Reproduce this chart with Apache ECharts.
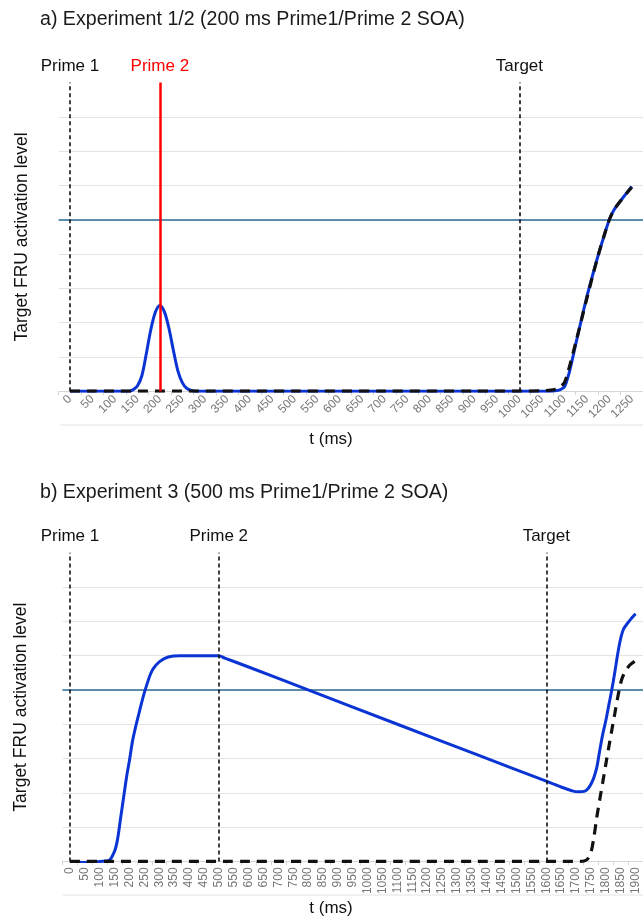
<!DOCTYPE html>
<html>
<head>
<meta charset="utf-8">
<script src="https://cdn.jsdelivr.net/npm/echarts@6/dist/echarts.min.js"></script>
<style>
  html, body { margin: 0; padding: 0; background: #fff; }
  #fru_chart_con { width: 643px; height: 922px; }
</style>
</head>
<body>
<div id="fru_chart_con"></div>
<script>
// panel a) Experiment 1/2, 200 ms SOA
const ticksA = ["0", "50", "100", "150", "200", "250", "300", "350", "400", "450", "500", "550", "600",
  "650", "700", "750", "800", "850", "900", "950", "1000", "1050", "1100", "1150", "1200", "1250"];
const timeA = [0, 50, 100, 130, 140, 150, 160, 170, 180, 190, 200, 210, 220, 230, 240, 250, 260, 270, 280, 300,
  500, 700, 900, 1000, 1050, 1070, 1080, 1090, 1100, 1110, 1125, 1150, 1175, 1190, 1200, 1210, 1225, 1250];
const primeA = [0, 0, 0, 0, 0.04, 0.15, 0.45, 1.1, 1.8, 2.3, 2.5, 2.32, 1.85, 1.2, 0.6, 0.25, 0.08, 0.02, 0, 0,
  0, 0, 0, 0, 0, 0, 0.01, 0.04, 0.12, 0.5, 1.35, 2.75, 3.95, 4.6, 5.0, 5.28, 5.55, 5.97];
const targetA = [0, 0, 0, 0, 0, 0, 0, 0, 0, 0, 0, 0, 0, 0, 0, 0, 0, 0, 0, 0,
  0, 0, 0, 0, 0.01, 0.03, 0.06, 0.12, 0.25, 0.65, 1.4, 2.7, 3.95, 4.6, 5.0, 5.28, 5.55, 5.95];
const markersA = [["Prime 1", 0], ["Prime 2", 200], ["Target", 1000]];

// panel b) Experiment 3, 500 ms SOA
const ticksB = ["0", "50", "100", "150", "200", "250", "300", "350", "400", "450", "500", "550", "600",
  "650", "700", "750", "800", "850", "900", "950", "1000", "1050", "1100", "1150", "1200", "1250", "1300",
  "1350", "1400", "1450", "1500", "1550", "1600", "1650", "1700", "1750", "1800", "1850", "1900"];
const timeB = [0, 50, 100, 130, 150, 160, 170, 180, 190, 200, 210, 220, 230, 240, 250, 260, 270, 280, 300, 330,
  370, 430, 470, 500, 520, 600, 800, 1100, 1365, 1600, 1650, 1690, 1710, 1730, 1740, 1750, 1760, 1770, 1780,
  1790, 1800, 1810, 1820, 1830, 1840, 1850, 1860, 1880, 1900];
const primeB = [0, -0.03, 0, 0.02, 0.3, 0.65, 1.25, 1.85, 2.45, 2.95, 3.5, 3.9, 4.25, 4.6, 4.92, 5.2, 5.45, 5.62,
  5.82, 5.96, 6.0, 6.0, 6.0, 6.0, 5.93, 5.67, 5.0, 4.0, 3.12, 2.34, 2.17, 2.05, 2.03, 2.05, 2.12, 2.25, 2.45,
  2.75, 3.25, 3.72, 4.1, 4.55, 5.0, 5.5, 6.05, 6.5, 6.78, 7.02, 7.22];
const targetB = [0, 0, 0, 0, 0, 0, 0, 0, 0, 0, 0, 0, 0, 0, 0, 0, 0, 0, 0, 0,
  0, 0, 0, 0, 0, 0, 0, 0, 0, 0, 0, 0, 0, 0.02, 0.08, 0.25, 0.7, 1.3, 1.82, 2.32, 2.83, 3.33, 3.82,
  4.3, 4.78, 5.2, 5.45, 5.72, 5.85];
const markersB = [["Prime 1", 0], ["Prime 2", 500], ["Target", 1600]];

const threshold = 5;
const yMax = 9;

const FONT = "'Liberation Sans', Arial, sans-serif";
const BLUE = "#0a34d4";

function pairs(xs, ys) {
  return xs.map((x, i) => [x, ys[i]]);
}

function markerLines(list, redName) {
  return list.map(([name, t]) => {
    const red = name === redName;
    return [
      {
        name: name,
        coord: [t, 0],
        lineStyle: red
          ? { color: "#ff0000", width: 2.5, type: "solid" }
          : { color: "#111", width: 1.6, type: [4, 3] },
        label: { color: red ? "#ff0000" : "#111" }
      },
      { coord: [t, yMax] }
    ];
  });
}

function panelAxes(idx, ticks, minT, maxT, rotate) {
  return [
    {
      type: "category",
      gridIndex: idx,
      data: ticks,
      boundaryGap: true,
      axisLine: { lineStyle: { color: "#d6d6d6", width: 1 } },
      axisTick: { show: true, length: 4, lineStyle: { color: "#d6d6d6" } },
      axisLabel: { interval: 0, rotate: rotate, color: "#777", fontSize: 12, fontFamily: FONT, margin: 6 },
      splitLine: { show: false }
    },
    {
      type: "value",
      gridIndex: idx,
      min: minT,
      max: maxT,
      show: false
    }
  ];
}

function panelY(idx, gap) {
  return {
    type: "value",
    gridIndex: idx,
    min: 0,
    max: yMax,
    interval: 1,
    name: "Target FRU activation level",
    nameLocation: "middle",
    nameGap: gap,
    nameTextStyle: { color: "#111", fontSize: 17.5, fontFamily: FONT },
    axisLine: { show: false },
    axisTick: { show: false },
    axisLabel: { show: false },
    splitLine: {
      show: true,
      showMinLine: false,
      showMaxLine: false,
      lineStyle: { color: "#e4e4e4", width: 1 }
    }
  };
}

function panelSeries(idx, xs, prime, target, markers, redName) {
  return [
    {
      name: "prime" + idx,
      type: "line",
      xAxisIndex: idx * 2 + 1,
      yAxisIndex: idx,
      data: pairs(xs, prime),
      smooth: 0.3,
      showSymbol: false,
      z: 2,
      lineStyle: { color: BLUE, width: 3 },
      markLine: {
        z: 1,
        silent: true,
        symbol: "none",
        label: { show: false },
        lineStyle: { color: "#2a6b96", width: 1.6, type: "solid" },
        data: [{ yAxis: threshold }]
      }
    },
    {
      name: "target" + idx,
      type: "line",
      xAxisIndex: idx * 2 + 1,
      yAxisIndex: idx,
      data: pairs(xs, target),
      smooth: 0.3,
      showSymbol: false,
      z: 3,
      lineStyle: { color: "#111", width: 3.2, type: [10, 7] },
      markLine: {
        z: 6,
        silent: true,
        symbol: "none",
        label: {
          show: true,
          position: "end",
          distance: 8,
          formatter: p => p.name,
          fontSize: 17,
          fontFamily: FONT
        },
        data: markerLines(markers, redName)
      }
    }
  ];
}

const option = {
  animation: false,
  backgroundColor: "#fff",
  title: [
    {
      text: "a) Experiment 1/2 (200 ms Prime1/Prime 2 SOA)",
      left: 40, top: 10, padding: 0,
      textStyle: { fontSize: 19.6, fontWeight: "normal", color: "#1a1a1a", fontFamily: FONT }
    },
    {
      text: "b) Experiment 3 (500 ms Prime1/Prime 2 SOA)",
      left: 40, top: 483, padding: 0,
      textStyle: { fontSize: 19.6, fontWeight: "normal", color: "#1a1a1a", fontFamily: FONT }
    }
  ],
  grid: [
    { left: 58.7, right: -2, top: 82.6, height: 308.6 },
    { left: 62.5, right: -4.5, top: 552.8, height: 308.6 }
  ],
  xAxis: [
    ...panelAxes(0, ticksA, -25, 1275, 45),
    ...panelAxes(1, ticksB, -25, 1925, 90)
  ],
  yAxis: [panelY(0, 28), panelY(1, 32)],
  series: [
    ...panelSeries(0, timeA, primeA, targetA, markersA, "Prime 2"),
    ...panelSeries(1, timeB, primeB, targetB, markersB, "")
  ],
  graphic: [
    { type: "line", silent: true, shape: { x1: 60, y1: 425, x2: 643, y2: 425 }, style: { stroke: "#e2e2e2", lineWidth: 1 } },
    { type: "line", silent: true, shape: { x1: 63, y1: 895, x2: 643, y2: 895 }, style: { stroke: "#e2e2e2", lineWidth: 1 } },
    { type: "text", silent: true, x: 331, y: 439, style: { text: "t (ms)", fontSize: 17, fontFamily: FONT, fill: "#111", align: "center", verticalAlign: "middle" } },
    { type: "text", silent: true, x: 331, y: 908, style: { text: "t (ms)", fontSize: 17, fontFamily: FONT, fill: "#111", align: "center", verticalAlign: "middle" } }
  ]
};

const fruChart = echarts.init(document.getElementById("fru_chart_con"));
fruChart.setOption(option);

window.addEventListener("resize", function() {
  fruChart.resize();
});
</script>
</body>
</html>
